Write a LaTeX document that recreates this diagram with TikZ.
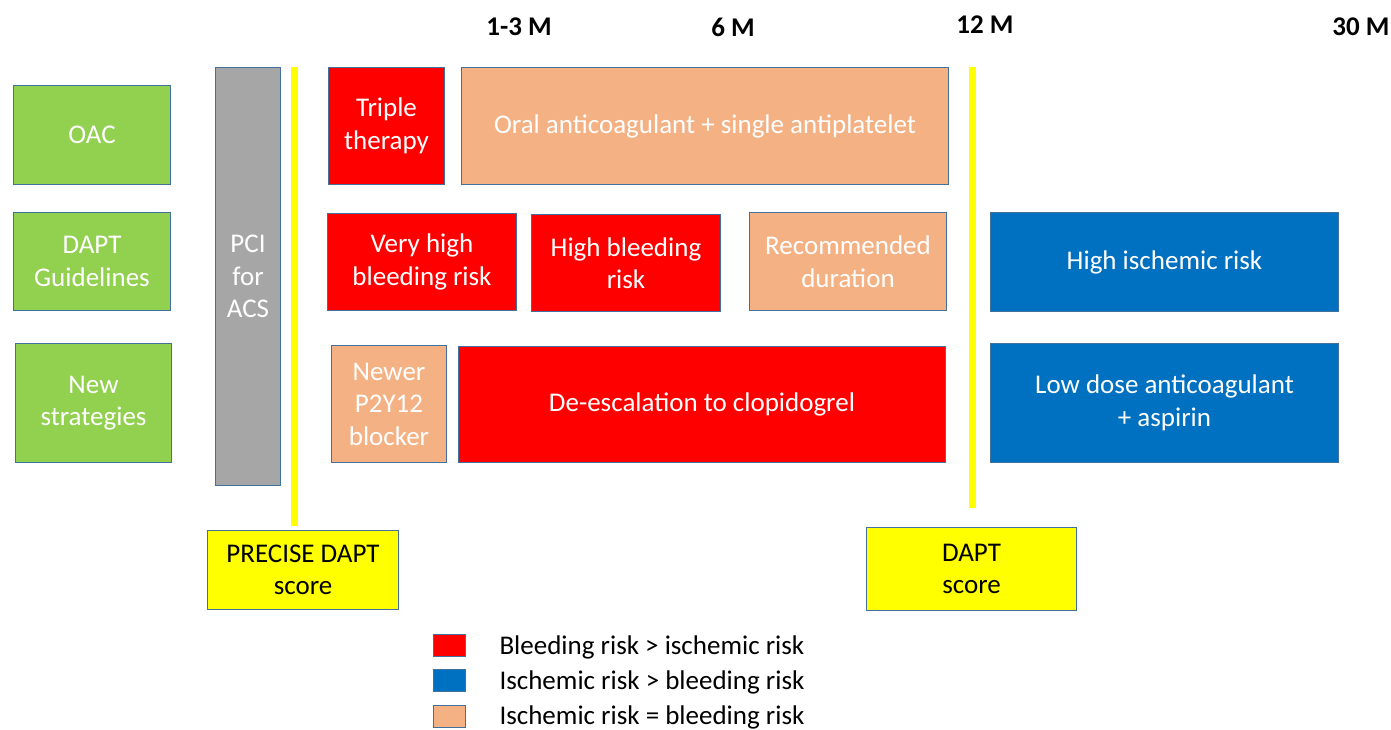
\documentclass[tikz,border=0pt]{standalone}
\usepackage{fontspec}
\setmainfont{Carlito}
\definecolor{cgreen}{HTML}{92D050}
\definecolor{cred}{HTML}{FF0000}
\definecolor{cpeach}{HTML}{F4B183}
\definecolor{cblue}{HTML}{0070C0}
\definecolor{cgray}{HTML}{A6A6A6}
\definecolor{cyel}{HTML}{FFFF00}
\definecolor{cedge}{HTML}{41719C}
\begin{document}
\begin{tikzpicture}[x=1pt,y=-1pt,
  box/.style={draw=cedge, line width=1pt, anchor=north west, inner sep=0pt, align=center,
    text=white, font=\fontsize{27}{32.5}\selectfont},
  gbox/.style={box, fill=cgreen},
  rbox/.style={box, fill=cred},
  pbox/.style={box, fill=cpeach},
  bbox/.style={box, fill=cblue},
  ybox/.style={box, fill=cyel, text=black},
  hdr/.style={font=\fontsize{27}{32}\selectfont\bfseries, text=black},
  yline/.style={draw=cyel, line width=7pt},
  legsq/.style={draw=cedge, line width=1pt, anchor=north west, inner sep=0pt, minimum width=32pt, minimum height=22pt},
  legtxt/.style={anchor=west, font=\fontsize{27}{32}\selectfont, text=black}
]
\useasboundingbox (0,0) rectangle (1391,729);
% headers
\node[hdr] (h1) at (519,27) {1-3 M};
\node[hdr] (h2) at (733,27) {6 M};
\node[hdr] (h3) at (985,25) {12 M};
\node[hdr] (h4) at (1361,27) {30 M};
% left column
\node[gbox, minimum width=157pt, minimum height=99pt] (oac) at (13,85) {OAC};
\node[gbox, minimum width=157pt, minimum height=98pt] (dapt) at (13,212) {DAPT\\Guidelines};
\node[gbox, minimum width=156pt, minimum height=119pt] (new) at (15,343) {New\\strategies};
\node[box, fill=cgray, minimum width=65pt, minimum height=418pt] (pci) at (215,67) {PCI\\for\\ACS};
% yellow lines
\coordinate (l1t) at (294,67);
\coordinate (l1b) at (294,526);
\coordinate (l2t) at (972,67);
\coordinate (l2b) at (972,508);
\draw[yline] (l1t) -- (l1b);
\draw[yline] (l2t) -- (l2b);
% row 1
\node[rbox, minimum width=116pt, minimum height=117pt] (triple) at (328,67) {Triple\\therapy};
\node[pbox, minimum width=487pt, minimum height=117pt] (oral) at (461,67) {Oral anticoagulant + single antiplatelet};
% row 2
\node[rbox, minimum width=189pt, minimum height=97pt] (vhbr) at (327,213) {Very high\\bleeding risk};
\node[rbox, minimum width=189pt, minimum height=97pt] (hbr) at (531,214) {High bleeding\\risk};
\node[pbox, minimum width=197pt, minimum height=98pt] (rec) at (749,212) {Recommended\\duration};
\node[bbox, minimum width=348pt, minimum height=99pt] (hir) at (990,212) {High ischemic risk};
% row 3
\node[pbox, minimum width=115pt, minimum height=117pt] (newer) at (331,345) {Newer\\P2Y12\\blocker};
\node[rbox, minimum width=487pt, minimum height=116pt] (desc) at (458,346) {De-escalation to clopidogrel};
\node[bbox, minimum width=348pt, minimum height=119pt] (low) at (990,343) {Low dose anticoagulant\\+ aspirin};
% scores
\node[ybox, minimum width=191pt, minimum height=79pt] (precise) at (207,530) {PRECISE DAPT\\score};
\node[ybox, minimum width=210pt, minimum height=83pt] (dscore) at (866,527) {DAPT\\score};
% legend
\node[legsq, fill=cred] (lg1) at (433,634) {};
\node[legsq, fill=cblue] (lg2) at (433,669) {};
\node[legsq, fill=cpeach] (lg3) at (433,705) {};
\node[legtxt] (lt1) at (496,647) {Bleeding risk > ischemic risk};
\node[legtxt] (lt2) at (496,682) {Ischemic risk > bleeding risk};
\node[legtxt] (lt3) at (496,717) {Ischemic risk = bleeding risk};
\end{tikzpicture}
\end{document}
